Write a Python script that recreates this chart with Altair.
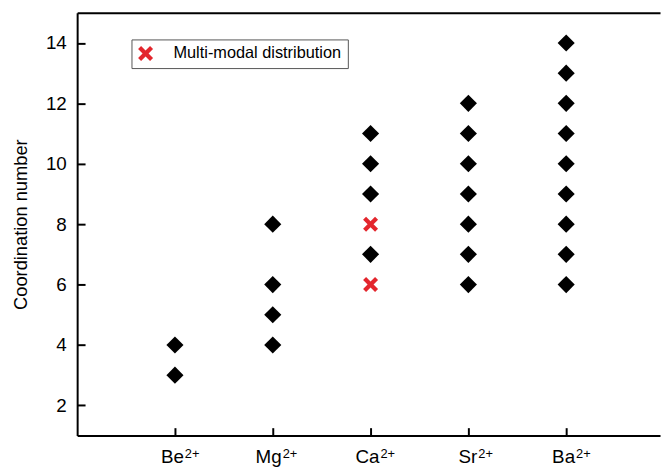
import altair as alt
import pandas as pd

# ---- data ----
ions = ["Be", "Mg", "Ca", "Sr", "Ba"]
charge = "2+"
cn_single = {
    "Be": [3, 4],
    "Mg": [4, 5, 6, 8],
    "Ca": [7, 9, 10, 11],
    "Sr": [6, 7, 8, 9, 10, 11, 12],
    "Ba": [6, 7, 8, 9, 10, 11, 12, 13, 14],
}
cn_multi = {"Ca": [6, 8]}
legend_label = "Multi-modal distribution"
y_ticks = [2, 4, 6, 8, 10, 12, 14]

rows_d = [{"i": ions.index(k) + 1, "cn": v} for k, vals in cn_single.items() for v in vals]
rows_m = [{"i": ions.index(k) + 1, "cn": v, "kind": legend_label} for k, vals in cn_multi.items() for v in vals]
df_d = pd.DataFrame(rows_d)
df_m = pd.DataFrame(rows_m)
df_yt = pd.DataFrame({"t": y_ticks})
x_pos = list(range(1, len(ions) + 1))
df_xt = pd.DataFrame({"i": x_pos, "name": ions, "sup": [charge] * len(ions)})

W, H = 590, 428
RED = "#e3262d"
FONT = "Liberation Sans"
XPATH = ("M-1,-0.6L-0.6,-1L0,-0.4L0.6,-1L1,-0.6L0.4,0L1,0.6L0.6,1L0,0.4"
         "L-0.6,1L-1,0.6L-0.4,0Z")

xs = alt.Scale(domain=[0, W / 99.0], nice=False, zero=False)
ys = alt.Scale(domain=[1, 15], nice=False, zero=False)

# main axes: bottom and left lines, y labels and title
x_axis = alt.Axis(orient="bottom", values=x_pos, labels=False, ticks=False, grid=False,
                  title=None, domainColor="black", domainWidth=2)
y_axis = alt.Axis(orient="left", values=y_ticks, ticks=False, grid=False,
                  title="Coordination number", domainColor="black", domainWidth=2,
                  labelFontSize=19, labelFont=FONT, labelColor="black", labelPadding=11,
                  titleFontSize=18.5, titleFont=FONT, titleFontWeight="normal",
                  titleColor="black", titlePadding=15)

diamonds = alt.Chart(df_d).mark_point(shape="diamond", filled=True, color="black",
                                      size=300, opacity=1).encode(
    x=alt.X("i:Q", scale=xs, axis=x_axis),
    y=alt.Y("cn:Q", scale=ys, axis=y_axis),
)

multi = alt.Chart(df_m).mark_point(filled=True, color=RED, size=230, opacity=1).encode(
    x=alt.X("i:Q", scale=xs, axis=None),
    y=alt.Y("cn:Q", scale=ys, axis=None),
    shape=alt.Shape("kind:N", scale=alt.Scale(range=[XPATH]),
                    legend=alt.Legend(title=None, orient="none", legendX=55, legendY=27,
                                      strokeColor="#555", fillColor="white", padding=6,
                                      labelFontSize=16.5, labelFont=FONT, labelColor="black",
                                      labelOffset=20, labelLimit=400, symbolSize=230,
                                      symbolFillColor=RED, symbolStrokeWidth=0,
                                      symbolOpacity=1)),
)

# inward y ticks: a right-oriented axis moved onto the left edge
ytick_axis = alt.Chart(df_yt).mark_point(opacity=0).encode(
    y=alt.Y("t:Q", scale=ys,
            axis=alt.Axis(orient="right", offset=-W, values=y_ticks, labels=False,
                          domain=False, grid=False, ticks=True, tickSize=8, tickWidth=2,
                          tickColor="black", title=None)),
    x=alt.value(0),
)

# inward x ticks: a top-oriented axis moved onto the bottom edge
xtick_axis = alt.Chart(df_xt).mark_point(opacity=0).encode(
    x=alt.X("i:Q", scale=xs,
            axis=alt.Axis(orient="top", offset=-H, values=x_pos, labels=False,
                          domain=False, grid=False, ticks=True, tickSize=8, tickWidth=2,
                          tickColor="black", title=None)),
    y=alt.value(0),
)

# top border line
top_axis = alt.Chart(df_xt).mark_point(opacity=0).encode(
    x=alt.X("i:Q", scale=xs,
            axis=alt.Axis(orient="top", values=x_pos, labels=False, ticks=False,
                          grid=False, domain=True, domainWidth=2, domainColor="black",
                          title=None)),
    y=alt.value(0),
)

base_lbl = alt.Chart(df_xt).mark_text(align="right", baseline="alphabetic", dx=9,
                                      fontSize=19, font=FONT, color="black").encode(
    x=alt.X("i:Q", scale=xs, axis=None), y=alt.value(H + 28), text="name:N")
sup_lbl = alt.Chart(df_xt).mark_text(align="left", baseline="alphabetic", dx=10,
                                     fontSize=13, font=FONT, color="black").encode(
    x=alt.X("i:Q", scale=xs, axis=None), y=alt.value(H + 23), text="sup:N")

chart = alt.layer(diamonds, multi, base_lbl, sup_lbl, ytick_axis, xtick_axis, top_axis
                  ).resolve_axis(x="independent", y="independent").properties(
    width=W, height=H, background="white",
    autosize=alt.AutoSizeParams(type="none"),
    padding={"left": 70, "top": 2, "right": 2, "bottom": 30},
).configure_view(stroke=None)

chart.save("out.html", embed_options={"renderer": "svg", "actions": False})
